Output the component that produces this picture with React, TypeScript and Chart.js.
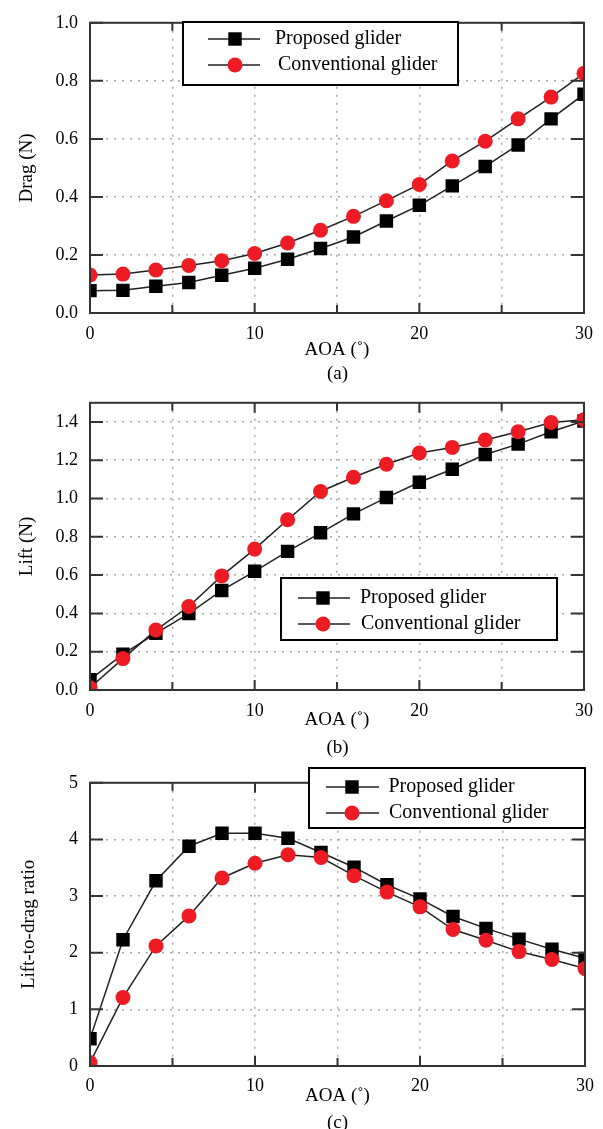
import React, { useEffect, useRef } from 'react';
import { Chart, registerables } from 'chart.js';

Chart.register(...registerables);

// ---------- data ----------
const aoa = [0, 2, 4, 6, 8, 10, 12, 14, 16, 18, 20, 22, 24, 26, 28, 30];
const seriesNames = ['Proposed glider', 'Conventional glider'];

const dragProposed = [0.077, 0.078, 0.092, 0.105, 0.13, 0.154, 0.185, 0.222, 0.262, 0.317, 0.371, 0.438, 0.505, 0.579, 0.669, 0.754];
const dragConventional = [0.131, 0.134, 0.148, 0.164, 0.18, 0.205, 0.241, 0.285, 0.333, 0.387, 0.443, 0.524, 0.592, 0.669, 0.744, 0.826];

const liftProposed = [0.054, 0.187, 0.296, 0.399, 0.52, 0.62, 0.724, 0.821, 0.92, 1.005, 1.085, 1.153, 1.23, 1.284, 1.349, 1.405];
const liftConventional = [0.012, 0.164, 0.313, 0.436, 0.596, 0.736, 0.889, 1.037, 1.111, 1.179, 1.238, 1.267, 1.306, 1.349, 1.397, 1.412];

const ldProposed = [0.48, 2.23, 3.27, 3.88, 4.11, 4.11, 4.02, 3.77, 3.51, 3.2, 2.95, 2.64, 2.43, 2.24, 2.06, 1.9];
const ldConventional = [0.06, 1.21, 2.12, 2.65, 3.32, 3.58, 3.73, 3.68, 3.36, 3.07, 2.81, 2.41, 2.22, 2.02, 1.88, 1.72];

const xGridTicks = [0, 5, 10, 15, 20, 25, 30];
const xTickLabels = ['0', '10', '20', '30'];
const dragTicks = [0, 0.2, 0.4, 0.6, 0.8, 1.0];
const liftTicks = [0, 0.2, 0.4, 0.6, 0.8, 1.0, 1.2, 1.4];
const ldTicks = [0, 1, 2, 3, 4, 5];

const xTitle = 'AOA (˚)';
const captions = ['(a)', '(b)', '(c)'];

// ---------- styles ----------
const FONT = '"Liberation Serif", "Times New Roman", serif';
const RED = '#ed1c24';
const LINE = '#222';
const FRAME = '#333';

type LegendGeom = {
  left: number; top: number; width: number; height: number;
  lineStart: number; lineEnd: number; marker: number; textX: number[]; rows: number[];
};

type Panel = {
  top: number; height: number; plotTop: number; plotBottom: number;
  yTitle: string; yMax: number; yTicks: number[]; yDecimals: number;
  proposed: number[]; conventional: number[];
  xTickPad: number; xTitlePad: number; yTitleCenter: number;
  legend: LegendGeom; caption: string; captionY: number;
};

const panels: Panel[] = [
  {
    top: 0, height: 365, plotTop: 21, plotBottom: 313,
    yTitle: 'Drag (N)', yMax: 1.0, yTicks: dragTicks, yDecimals: 1,
    proposed: dragProposed, conventional: dragConventional,
    xTickPad: 10, xTitlePad: 3.6, yTitleCenter: 27,
    legend: { left: 183, top: 22, width: 275, height: 63, lineStart: 25, lineEnd: 77, marker: 52, textX: [92, 95], rows: [17, 43] },
    caption: captions[0], captionY: 373,
  },
  {
    top: 380, height: 365, plotTop: 18, plotBottom: 310,
    yTitle: 'Lift (N)', yMax: 1.5, yTicks: liftTicks, yDecimals: 1,
    proposed: liftProposed, conventional: liftConventional,
    xTickPad: 10, xTitlePad: 13.6, yTitleCenter: 27,
    legend: { left: 281, top: 198, width: 276, height: 62, lineStart: 17, lineEnd: 69, marker: 42, textX: [79, 80], rows: [20, 46] },
    caption: captions[1], captionY: 747,
  },
  {
    top: 760, height: 350, plotTop: 14, plotBottom: 306,
    yTitle: 'Lift-to-drag ratio', yMax: 5, yTicks: ldTicks, yDecimals: 0,
    proposed: ldProposed, conventional: ldConventional,
    xTickPad: 9, xTitlePad: 2.6, yTitleCenter: 29.5,
    legend: { left: 309, top: 8, width: 276, height: 60, lineStart: 17, lineEnd: 70, marker: 43, textX: [79.5, 80], rows: [19, 45] },
    caption: captions[2], captionY: 1122,
  },
];

const makeFramePlugin = (legend: LegendGeom) => ({
  id: 'frameAndLegend',
  afterDraw(chart: any) {
    const { ctx, chartArea } = chart;
    const { left, right, top, bottom } = chartArea;
    const xs = chart.scales.x;
    const ys = chart.scales.y;
    ctx.save();
    // inward tick marks
    ctx.strokeStyle = FRAME;
    ctx.lineWidth = 2;
    ctx.beginPath();
    xs.ticks.forEach((t: any) => {
      const px = xs.getPixelForValue(t.value);
      const len = t.value % 10 === 0 ? 10 : 8;
      ctx.moveTo(px, bottom);
      ctx.lineTo(px, bottom - len);
      ctx.moveTo(px, top);
      ctx.lineTo(px, top + len);
    });
    ys.ticks.forEach((t: any) => {
      const py = ys.getPixelForValue(t.value);
      ctx.moveTo(left, py);
      ctx.lineTo(left + 13, py);
      ctx.moveTo(right, py);
      ctx.lineTo(right - 13, py);
    });
    ctx.stroke();
    // frame
    ctx.strokeRect(left, top, right - left, bottom - top);

    // legend
    const lg = legend;
    ctx.fillStyle = '#fff';
    ctx.fillRect(lg.left, lg.top, lg.width, lg.height);
    ctx.strokeStyle = '#000';
    ctx.lineWidth = 2;
    ctx.strokeRect(lg.left, lg.top, lg.width, lg.height);
    chart.data.datasets.forEach((ds: any, i: number) => {
      const y = lg.top + lg.rows[i];
      ctx.strokeStyle = ds.borderColor;
      ctx.lineWidth = ds.borderWidth;
      ctx.beginPath();
      ctx.moveTo(lg.left + lg.lineStart, y);
      ctx.lineTo(lg.left + lg.lineEnd, y);
      ctx.stroke();
      const mx = lg.left + lg.marker;
      ctx.fillStyle = ds.pointBackgroundColor;
      if (ds.pointStyle === 'rect') {
        const s = ds.pointRadius * Math.SQRT1_2;
        ctx.fillRect(mx - s, y - s, 2 * s, 2 * s);
      } else {
        ctx.beginPath();
        ctx.arc(mx, y, ds.pointRadius, 0, Math.PI * 2);
        ctx.fill();
      }
      ctx.fillStyle = '#000';
      ctx.font = `20px ${FONT}`;
      ctx.textAlign = 'left';
      ctx.textBaseline = 'middle';
      ctx.fillText(ds.label, lg.left + lg.textX[i], y);
    });
    ctx.restore();
  },
});

function PanelChart({ p }: { p: Panel }) {
  const ref = useRef<HTMLCanvasElement>(null);
  useEffect(() => {
    if (!ref.current) return;
    const xHeight = p.height - p.plotBottom;
    const chart = new Chart(ref.current, {
      type: 'line',
      data: {
        datasets: [
          {
            label: seriesNames[0],
            data: aoa.map((x, i) => ({ x, y: p.proposed[i] })),
            borderColor: LINE,
            borderWidth: 1.5,
            pointStyle: 'rect',
            pointRadius: 9.5,
            pointBackgroundColor: '#000',
            pointBorderColor: '#000',
            pointBorderWidth: 0,
            tension: 0,
            clip: 0,
            order: 1,
          },
          {
            label: seriesNames[1],
            data: aoa.map((x, i) => ({ x, y: p.conventional[i] })),
            borderColor: LINE,
            borderWidth: 1.5,
            pointStyle: 'circle',
            pointRadius: 7.5,
            pointBackgroundColor: RED,
            pointBorderColor: RED,
            pointBorderWidth: 0,
            tension: 0,
            clip: 0,
            order: 0,
          },
        ],
      } as any,
      options: {
        responsive: false,
        animation: false,
        devicePixelRatio: 1,
        layout: { padding: { left: 0, right: 18, top: p.plotTop, bottom: 0 } },
        plugins: {
          legend: { display: false },
          tooltip: { enabled: false },
        },
        scales: {
          x: {
            type: 'linear',
            min: 0,
            max: 30,
            afterBuildTicks: (s: any) => {
              s.ticks = xGridTicks.map((v) => ({ value: v }));
            },
            afterFit: (s: any) => {
              s.height = xHeight;
            },
            ticks: {
              autoSkip: false,
              maxRotation: 0,
              padding: p.xTickPad,
              color: '#000',
              font: { family: FONT, size: 18 },
              callback: (v: any) => (xTickLabels.includes(String(v)) ? String(v) : ''),
            },
            grid: { color: '#a8a8a8', lineWidth: 1.5, drawTicks: false },
            border: { display: false, dash: [2, 6] },
            title: {
              display: true,
              text: xTitle,
              color: '#000',
              font: { family: FONT, size: 19 },
              padding: { top: 0, bottom: p.xTitlePad },
            },
          },
          y: {
            type: 'linear',
            min: 0,
            max: p.yMax,
            afterBuildTicks: (s: any) => {
              s.ticks = p.yTicks.map((v) => ({ value: v }));
            },
            afterFit: (s: any) => {
              s.width = 90;
            },
            ticks: {
              padding: 12,
              color: '#000',
              font: { family: FONT, size: 18 },
              callback: (v: any) => Number(v).toFixed(p.yDecimals),
            },
            grid: { color: '#a8a8a8', lineWidth: 1.5, drawTicks: false },
            border: { display: false, dash: [2, 6] },
            title: {
              display: true,
              text: p.yTitle,
              color: '#000',
              font: { family: FONT, size: 19 },
              padding: { top: p.yTitleCenter - 11.4, bottom: 0 },
            },
          },
        },
      } as any,
      plugins: [makeFramePlugin(p.legend)],
    });
    return () => chart.destroy();
  }, [p]);
  return (
    <canvas
      ref={ref}
      width={603}
      height={p.height}
      style={{ position: 'absolute', left: 0, top: p.top, width: 603, height: p.height }}
    />
  );
}

export default function App() {
  return (
    <div style={{ position: 'absolute', left: 0, top: 0, width: 603, height: 1129, background: '#fff', overflow: 'hidden' }}>
      {panels.map((p, i) => (
        <React.Fragment key={i}>
          <PanelChart p={p} />
          <div
            style={{
              position: 'absolute',
              left: 90,
              width: 495,
              top: p.captionY - 11,
              height: 22,
              lineHeight: '22px',
              textAlign: 'center',
              fontFamily: FONT,
              fontSize: 19,
              color: '#000',
            }}
          >
            {p.caption}
          </div>
        </React.Fragment>
      ))}
    </div>
  );
}
